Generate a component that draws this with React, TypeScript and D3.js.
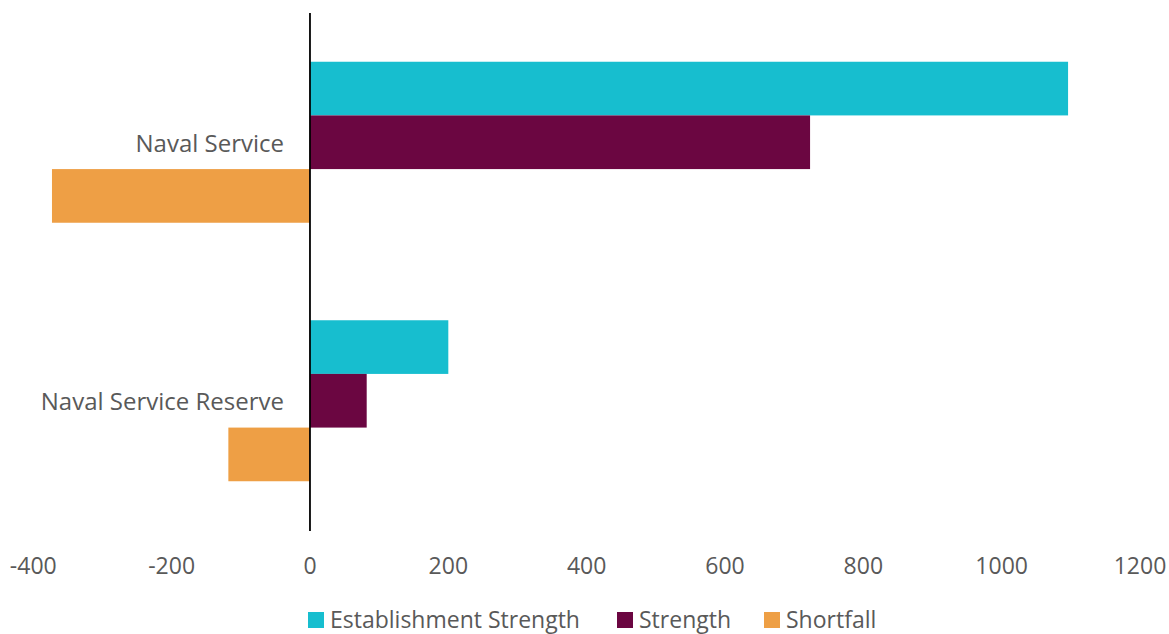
import React from "react";
import * as d3 from "d3";

const categories = ["Naval Service", "Naval Service Reserve"];
const seriesNames = ["Establishment Strength", "Strength", "Shortfall"];
const establishment = [1096, 200];
const strength = [723, 82];
const shortfall = [-373, -118];
const xTicks = [-400, -200, 0, 200, 400, 600, 800, 1000, 1200];
const colors = ["#17BECF", "#6B0641", "#EE9F45"];

const W = 1169;
const H = 634;
const FONT = "'Open Sans', 'Liberation Sans', sans-serif";

export default function App() {
  const series = [establishment, strength, shortfall];
  const x = d3.scaleLinear().domain([-400, 1200]).range([33.3, 1140]);
  const y = d3.scaleBand().domain(categories).range([13, 530]).paddingInner(0).paddingOuter(0);
  const groupH = 161;
  const barH = groupH / 3;
  const legendX = [308, 617, 764];
  return (
    <svg width={W} height={H} style={{ position: "absolute", left: 0, top: 0, background: "#fff" }}>
      {categories.map((c, ci) => {
        const center = (y(c) as number) + y.bandwidth() / 2;
        const top = center - groupH / 2;
        return (
          <g key={c}>
            {series.map((s, si) => {
              const v = s[ci];
              const x0 = x(Math.min(0, v));
              const x1 = x(Math.max(0, v));
              return (
                <rect key={si} x={x0} y={top + si * barH} width={x1 - x0} height={barH} fill={colors[si]} />
              );
            })}
            <text x={284} y={center} textAnchor="end" dominantBaseline="central" fontFamily={FONT} fontSize={24} fill="#595959">
              {c}
            </text>
          </g>
        );
      })}
      <line x1={x(0)} x2={x(0)} y1={13} y2={531} stroke="#000" strokeWidth={1.8} />
      {xTicks.map((t) => (
        <text key={t} x={x(t)} y={574} textAnchor="middle" fontFamily={FONT} fontSize={23} fill="#595959">
          {t}
        </text>
      ))}
      {seriesNames.map((n, i) => (
        <g key={n}>
          <rect x={legendX[i]} y={612} width={16} height={16} fill={colors[i]} />
          <text x={legendX[i] + 22} y={628} fontFamily={FONT} fontSize={23} fill="#595959">
            {n}
          </text>
        </g>
      ))}
    </svg>
  );
}
